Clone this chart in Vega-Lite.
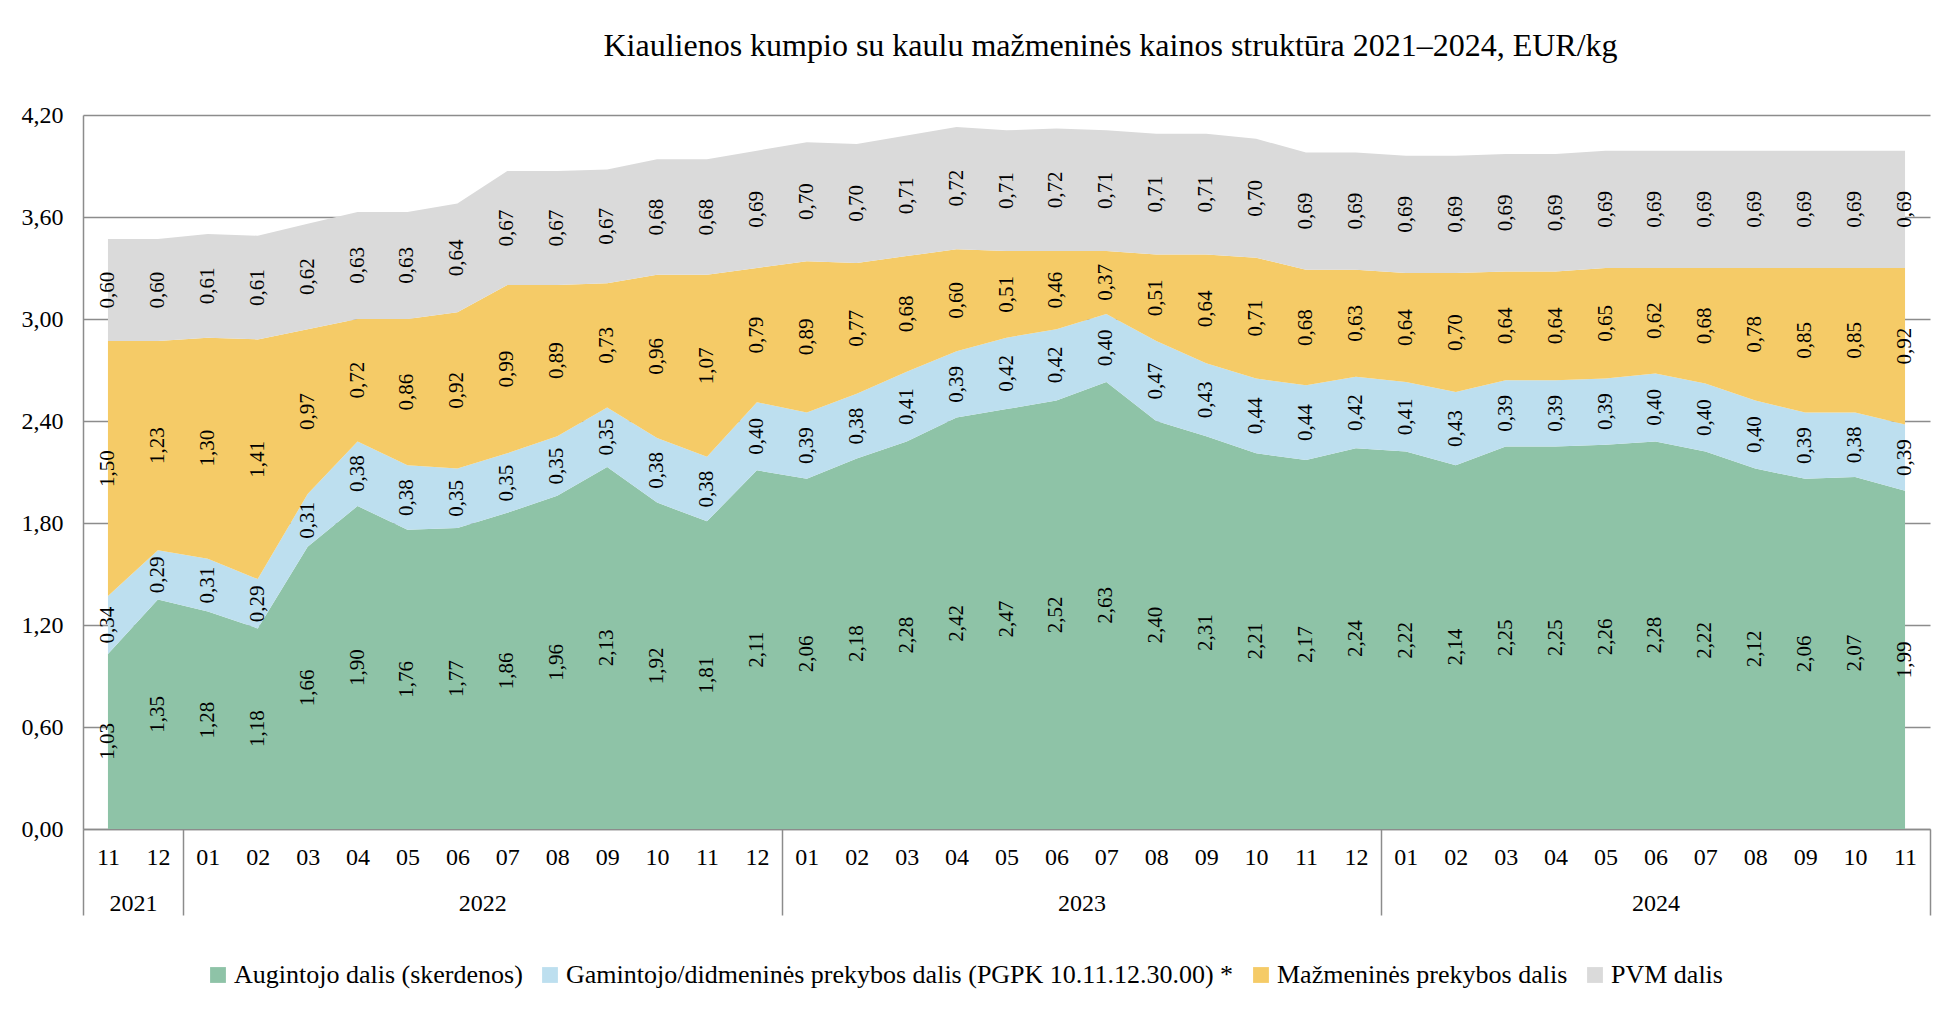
{
  "$schema": "https://vega.github.io/schema/vega-lite/v6.json",
  "autosize": "none",
  "width": 1847,
  "height": 714,
  "padding": {"left": 83, "top": 115, "right": 13, "bottom": 186},
  "background": "white",
  "config": {
    "font": "Liberation Serif",
    "view": {"stroke": null},
    "style": {"guide-label": {"font": "Liberation Serif"}, "guide-title": {"font": "Liberation Serif"}},
    "legend": {"labelFont": "Liberation Serif", "labelFontSize": 26, "labelColor": "black"},
    "axis": {"labelFont": "Liberation Serif"}
  },
  "title": {
    "text": "Kiaulienos kumpio su kaulu mažmeninės kainos struktūra 2021–2024, EUR/kg",
    "font": "Liberation Serif", "fontSize": 32, "fontWeight": "normal", "color": "black",
    "anchor": "middle", "frame": "group", "dx": 104, "offset": 40
  },
  "data": {"values": [
    {"month": "2021-11", "a": 1.03, "g": 0.34, "m": 1.50, "p": 0.60},
    {"month": "2021-12", "a": 1.35, "g": 0.29, "m": 1.23, "p": 0.60},
    {"month": "2022-01", "a": 1.28, "g": 0.31, "m": 1.30, "p": 0.61},
    {"month": "2022-02", "a": 1.18, "g": 0.29, "m": 1.41, "p": 0.61},
    {"month": "2022-03", "a": 1.66, "g": 0.31, "m": 0.97, "p": 0.62},
    {"month": "2022-04", "a": 1.90, "g": 0.38, "m": 0.72, "p": 0.63},
    {"month": "2022-05", "a": 1.76, "g": 0.38, "m": 0.86, "p": 0.63},
    {"month": "2022-06", "a": 1.77, "g": 0.35, "m": 0.92, "p": 0.64},
    {"month": "2022-07", "a": 1.86, "g": 0.35, "m": 0.99, "p": 0.67},
    {"month": "2022-08", "a": 1.96, "g": 0.35, "m": 0.89, "p": 0.67},
    {"month": "2022-09", "a": 2.13, "g": 0.35, "m": 0.73, "p": 0.67},
    {"month": "2022-10", "a": 1.92, "g": 0.38, "m": 0.96, "p": 0.68},
    {"month": "2022-11", "a": 1.81, "g": 0.38, "m": 1.07, "p": 0.68},
    {"month": "2022-12", "a": 2.11, "g": 0.40, "m": 0.79, "p": 0.69},
    {"month": "2023-01", "a": 2.06, "g": 0.39, "m": 0.89, "p": 0.70},
    {"month": "2023-02", "a": 2.18, "g": 0.38, "m": 0.77, "p": 0.70},
    {"month": "2023-03", "a": 2.28, "g": 0.41, "m": 0.68, "p": 0.71},
    {"month": "2023-04", "a": 2.42, "g": 0.39, "m": 0.60, "p": 0.72},
    {"month": "2023-05", "a": 2.47, "g": 0.42, "m": 0.51, "p": 0.71},
    {"month": "2023-06", "a": 2.52, "g": 0.42, "m": 0.46, "p": 0.72},
    {"month": "2023-07", "a": 2.63, "g": 0.40, "m": 0.37, "p": 0.71},
    {"month": "2023-08", "a": 2.40, "g": 0.47, "m": 0.51, "p": 0.71},
    {"month": "2023-09", "a": 2.31, "g": 0.43, "m": 0.64, "p": 0.71},
    {"month": "2023-10", "a": 2.21, "g": 0.44, "m": 0.71, "p": 0.70},
    {"month": "2023-11", "a": 2.17, "g": 0.44, "m": 0.68, "p": 0.69},
    {"month": "2023-12", "a": 2.24, "g": 0.42, "m": 0.63, "p": 0.69},
    {"month": "2024-01", "a": 2.22, "g": 0.41, "m": 0.64, "p": 0.69},
    {"month": "2024-02", "a": 2.14, "g": 0.43, "m": 0.70, "p": 0.69},
    {"month": "2024-03", "a": 2.25, "g": 0.39, "m": 0.64, "p": 0.69},
    {"month": "2024-04", "a": 2.25, "g": 0.39, "m": 0.64, "p": 0.69},
    {"month": "2024-05", "a": 2.26, "g": 0.39, "m": 0.65, "p": 0.69},
    {"month": "2024-06", "a": 2.28, "g": 0.40, "m": 0.62, "p": 0.69},
    {"month": "2024-07", "a": 2.22, "g": 0.40, "m": 0.68, "p": 0.69},
    {"month": "2024-08", "a": 2.12, "g": 0.40, "m": 0.78, "p": 0.69},
    {"month": "2024-09", "a": 2.06, "g": 0.39, "m": 0.85, "p": 0.69},
    {"month": "2024-10", "a": 2.07, "g": 0.38, "m": 0.85, "p": 0.69},
    {"month": "2024-11", "a": 1.99, "g": 0.39, "m": 0.92, "p": 0.69}
  ]},
  "transform": [
    {"calculate": "(toNumber(slice(datum.month,0,4))-2021)*12 + toNumber(slice(datum.month,5,7)) - 11", "as": "i"},
    {"fold": ["a", "g", "m", "p"], "as": ["key", "value"]},
    {"calculate": "indexof(['a','g','m','p'], datum.key)", "as": "ord"},
    {"stack": "value", "groupby": ["i"], "sort": [{"field": "ord", "order": "ascending"}], "as": ["y0", "y1"]},
    {"calculate": "(datum.y0 + datum.y1) / 2", "as": "ymid"},
    {"calculate": "replace(format(datum.value, '.2f'), '.', ',')", "as": "lab"}
  ],
  "resolve": {"axis": {"x": "independent", "y": "independent"}},
  "layer": [
    {
      "mark": {"type": "area", "interpolate": "linear", "opacity": 1},
      "encoding": {
        "x": {
          "field": "i", "type": "quantitative",
          "scale": {"domain": [-0.5, 36.5], "nice": false, "zero": false},
          "axis": {
            "orient": "bottom", "title": null,
            "values": [0,1,2,3,4,5,6,7,8,9,10,11,12,13,14,15,16,17,18,19,20,21,22,23,24,25,26,27,28,29,30,31,32,33,34,35,36],
            "labelExpr": "format(((datum.value + 10) % 12) + 1, '02d')",
            "ticks": false, "grid": false,
            "domain": true, "domainColor": "#8c8c8c", "domainWidth": 1.5,
            "labelFont": "Liberation Serif", "labelFontSize": 24, "labelColor": "black",
            "labelPadding": 16, "labelFlush": false, "labelOverlap": false, "labelBound": false
          }
        },
        "y": {
          "field": "y1", "type": "quantitative",
          "scale": {"domain": [0, 4.2], "nice": false, "zero": true},
          "axis": {
            "title": null,
            "values": [0, 0.6, 1.2, 1.8, 2.4, 3.0, 3.6, 4.2],
            "labelExpr": "replace(format(datum.value, '.2f'), '.', ',')",
            "ticks": false, "grid": true, "gridColor": "#8c8c8c", "gridWidth": 1.5,
            "domain": true, "domainColor": "#8c8c8c", "domainWidth": 1.5,
            "labelFont": "Liberation Serif", "labelFontSize": 24, "labelColor": "black",
            "labelPadding": 20, "labelOverlap": false, "labelFlush": false
          }
        },
        "y2": {"field": "y0"},
        "color": {
          "field": "key", "type": "nominal",
          "scale": {"domain": ["a", "g", "m", "p"], "range": ["#8ec3a7", "#bddfef", "#f5cb67", "#dadada"]},
          "legend": {
            "orient": "none", "legendX": 122, "legendY": 847, "direction": "horizontal",
            "title": null, "symbolType": "square", "symbolSize": 250, "symbolStrokeWidth": 0,
            "labelFont": "Liberation Serif", "labelFontSize": 26, "labelColor": "black",
            "labelOffset": 3, "columnPadding": 14, "labelLimit": 1000,
            "labelExpr": "datum.label == 'a' ? 'Augintojo dalis (skerdenos)' : datum.label == 'g' ? 'Gamintojo/didmeninės prekybos dalis (PGPK 10.11.12.30.00) *' : datum.label == 'm' ? 'Mažmeninės prekybos dalis' : 'PVM dalis'",
            "encode": {"labels": {"update": {"font": {"value": "Liberation Serif"}, "fontSize": {"value": 26}}}}
          }
        },
        "order": {"field": "ord"}
      }
    },
    {
      "mark": {"type": "text", "angle": 270, "align": "center", "baseline": "middle", "font": "Liberation Serif", "fontSize": 21, "color": "black"},
      "encoding": {
        "x": {
          "field": "i", "type": "quantitative",
          "scale": {"domain": [-0.5, 36.5], "nice": false, "zero": false},
          "axis": {
            "orient": "bottom", "title": null,
            "values": [-0.5, 0.5, 1.5, 7.5, 13.5, 19.5, 25.5, 31, 36.5],
            "labelExpr": "datum.value == 0.5 ? '2021' : datum.value == 7.5 ? '2022' : datum.value == 19.5 ? '2023' : datum.value == 31 ? '2024' : ''",
            "ticks": true, "tickSize": 86, "tickColor": "#8c8c8c", "tickWidth": 1.5,
            "tickOpacity": {"condition": {"test": "datum.value == 0.5 || datum.value == 7.5 || datum.value == 19.5 || datum.value == 31", "value": 0}, "value": 1},
            "domain": false, "grid": false,
            "labelFont": "Liberation Serif", "labelFontSize": 24, "labelColor": "black",
            "labelPadding": -24, "labelFlush": false, "labelOverlap": false, "labelBound": false
          }
        },
        "y": {"field": "ymid", "type": "quantitative", "scale": {"domain": [0, 4.2], "nice": false, "zero": true}, "axis": null},
        "text": {"field": "lab"}
      }
    }
  ]
}
